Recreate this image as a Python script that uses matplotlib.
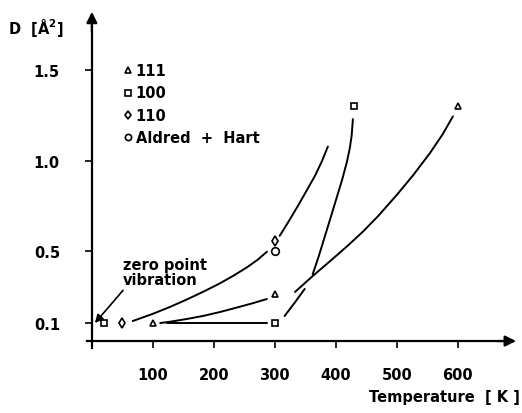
import numpy as np
import matplotlib
matplotlib.use('Agg')
import matplotlib.pyplot as plt

# 測定点 (Temperature [K], D [A^2])
t111 = [100, 300, 600]
d111 = [0.1, 0.26, 1.3]
t100 = [20, 300, 430]
d100 = [0.1, 0.1, 1.3]
t110 = [50, 300]
d110 = [0.1, 0.555]
t_ah = [300]
d_ah = [0.5]

# 曲線 (図から読み取った点)
c110_lo_t = [67, 100, 128, 156, 183, 210, 233, 254, 272, 287]
c110_lo_d = [0.111, 0.151, 0.189, 0.231, 0.274, 0.32, 0.364, 0.408, 0.451, 0.495]
c110_hi_t = [308, 323, 338, 352, 366, 377, 387]
c110_hi_d = [0.583, 0.665, 0.75, 0.833, 0.917, 0.995, 1.078]

c111_lo_t = [112, 128, 155, 182, 210, 238, 263, 287]
c111_lo_d = [0.1, 0.107, 0.122, 0.139, 0.161, 0.186, 0.209, 0.233]
c111_hi_t = [333, 362, 393, 420, 444, 470, 500, 527, 554, 575, 592]
c111_hi_d = [0.272, 0.36, 0.45, 0.53, 0.605, 0.695, 0.81, 0.92, 1.04, 1.145, 1.245]

c100_flat_t = [123, 287]
c100_flat_d = [0.1, 0.1]
c100_mid_t = [316, 332, 349]
c100_mid_d = [0.139, 0.21, 0.289]
c100_hi_t = [362, 372, 382, 392, 401, 410, 418, 423, 426, 428]
c100_hi_d = [0.37, 0.47, 0.58, 0.69, 0.79, 0.89, 0.99, 1.07, 1.14, 1.23]

legend_labels = ['111', '100', '110', 'Aldred  +  Hart']
legend_markers = ['^', 's', 'd', 'o']
xticks = [100, 200, 300, 400, 500, 600]
yticks = [0.1, 0.5, 1.0, 1.5]
ytick_labels = ['0.1', '0.5', '1.0', '1.5']

plt.rcParams['font.family'] = ['DejaVu Sans']
plt.rcParams['font.weight'] = 'bold'

fig = plt.figure(figsize=(5.22, 4.14), dpi=100)
ax = fig.add_axes([87 / 522, 1 - 352 / 414, (520 - 87) / 522, (352 - 10) / 414])
ax.set_xlim(-8, 702)
ax.set_ylim(-0.055, 1.84)

lw = 1.4
for tt, dd in [(c110_lo_t, c110_lo_d), (c110_hi_t, c110_hi_d),
               (c111_lo_t, c111_lo_d), (c111_hi_t, c111_hi_d),
               (c100_flat_t, c100_flat_d), (c100_mid_t, c100_mid_d),
               (c100_hi_t, c100_hi_d)]:
    ax.plot(tt, dd, color='black', lw=lw, solid_capstyle='round', solid_joinstyle='round')

mk = dict(color='black', mfc='white', mew=1.2, ls='none', clip_on=False, zorder=3)
ax.plot(t111, d111, '^', ms=5, **mk)
ax.plot(t100, d100, 's', ms=5, **mk)
ax.plot(t110, d110, 'd', ms=5, **mk)
ax.plot(t_ah, d_ah, 'o', ms=5.5, **mk)

# 凡例 (手描き)
leg_y = [1.5, 1.375, 1.25, 1.128]
for lab, m, yy in zip(legend_labels, legend_markers, leg_y):
    ax.plot([59], [yy], m, ms=4.5, **mk)
    ax.text(72, yy, lab, fontsize=10.5, va='center', ha='left')

# 軸
for s in ['top', 'right']:
    ax.spines[s].set_visible(False)
ax.spines['left'].set_position(('data', 0))
ax.spines['bottom'].set_position(('data', 0))
ax.spines['left'].set_linewidth(1.6)
ax.spines['bottom'].set_linewidth(1.6)
ax.spines['left'].set_bounds(-0.04, 1.8)
ax.spines['bottom'].set_bounds(-8, 690)
ax.annotate('', xy=(700, 0), xytext=(660, 0),
            arrowprops=dict(arrowstyle='-|>', color='black', lw=1.6, mutation_scale=16))
ax.annotate('', xy=(0, 1.84), xytext=(0, 1.7),
            arrowprops=dict(arrowstyle='-|>', color='black', lw=1.6, mutation_scale=16),
            annotation_clip=False)

ax.set_xticks(xticks)
ax.set_xticklabels([str(v) for v in xticks])
ax.set_yticks(yticks)
ax.set_yticklabels(ytick_labels)
ax.tick_params(direction='out', length=5, width=1.2, labelsize=10.5, pad=14)
ax.tick_params(axis='y', pad=18)

fig.text(8 / 522, 1 - 28 / 414, 'D  [Å$^2$]', fontsize=10.5, va='center', ha='left')
fig.text(520 / 522, 1 - 398 / 414, 'Temperature  [ K ]', fontsize=10.5, va='center', ha='right')

ax.annotate('zero point\nvibration', xy=(5, 0.1), xytext=(51, 0.38),
            fontsize=10.5, ha='left', va='center', linespacing=1.0,
            arrowprops=dict(arrowstyle='-|>', color='black', lw=1.2, mutation_scale=12,
                            shrinkA=0, shrinkB=0, relpos=(0.03, 0.0)))

fig.savefig('out.png', dpi=100)
